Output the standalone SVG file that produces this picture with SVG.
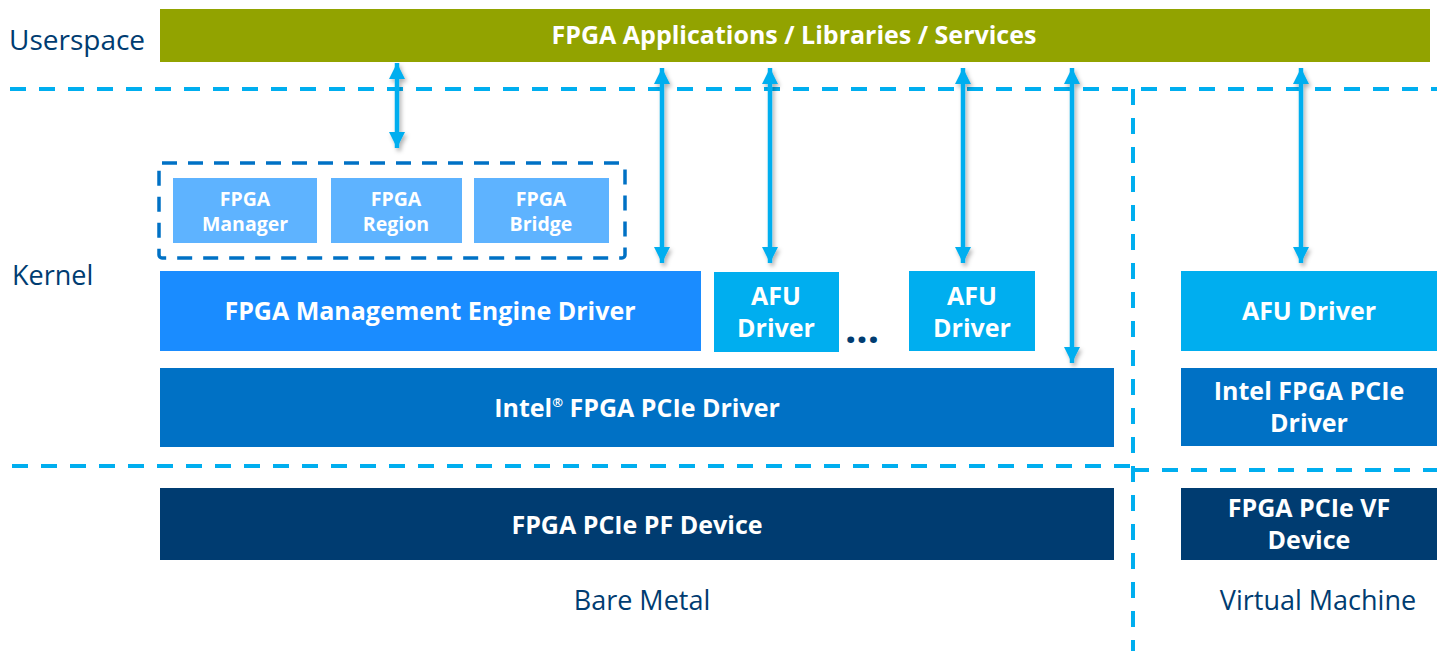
<svg xmlns="http://www.w3.org/2000/svg" width="1437" height="651" viewBox="0 0 1437 651">
<style>
.lbl{font-family:"Open Sans","Noto Sans","Liberation Sans",sans-serif;font-size:27px;fill:#003C71}
.t{font-family:"Open Sans","Noto Sans","Liberation Sans",sans-serif;font-weight:bold;fill:#fff;text-anchor:middle}
.t23{font-size:25px}
.t18{font-size:19.5px}
.dash{fill:none;stroke:#00AEEF;stroke-width:4;stroke-dasharray:16 13}
.arr{stroke:#00AEEF;stroke-width:4.5;fill:none;marker-start:url(#ah);marker-end:url(#ah);filter:url(#sh)}
</style>
<defs>
<marker id="ah" viewBox="0 0 10 10" refX="10" refY="5" markerWidth="3.6" markerHeight="3.6" orient="auto-start-reverse" markerUnits="strokeWidth">
<path d="M0,0 L10,5 L0,10 Z" fill="#00AEEF"/>
</marker>
<filter id="sh" filterUnits="userSpaceOnUse" x="0" y="0" width="1437" height="651">
<feDropShadow dx="2" dy="3" stdDeviation="2" flood-color="#000" flood-opacity="0.3"/>
</filter>
</defs>

<g id="separators">
<path class="dash" d="M10,89 H1437"/>
<path class="dash" d="M12,466 H1133"/>
<path class="dash" d="M1133,470 H1437"/>
<path class="dash" d="M1133,89 V651"/>
</g>

<g id="labels">
<text class="lbl" x="9" y="50" style="font-size:28px">Userspace</text>
<text class="lbl" x="12" y="285">Kernel</text>
<text class="lbl" x="642" y="610" text-anchor="middle">Bare Metal</text>
<text class="lbl" x="1318" y="610" text-anchor="middle">Virtual Machine</text>
</g>

<g id="apps">
<rect x="160" y="9" width="1270" height="53" fill="#92A300"/>
<text class="t t23" x="794" y="44">FPGA Applications / Libraries / Services</text>
</g>

<g id="fpga-framework">
<rect x="159" y="163" width="466" height="95" fill="none" stroke="#0071C5" stroke-width="3.5" stroke-dasharray="15 11" rx="3"/>
</g>
<g id="fpga-manager">
<rect x="173" y="178" width="144" height="65" fill="#5EB3FF"/>
<text class="t t18" x="245" y="206">FPGA</text>
<text class="t t18" x="245" y="231">Manager</text>
</g>
<g id="fpga-region">
<rect x="331" y="178" width="131" height="65" fill="#5EB3FF"/>
<text class="t t18" x="396" y="206">FPGA</text>
<text class="t t18" x="396" y="231">Region</text>
</g>
<g id="fpga-bridge">
<rect x="474" y="178" width="135" height="65" fill="#5EB3FF"/>
<text class="t t18" x="541" y="206">FPGA</text>
<text class="t t18" x="541" y="231">Bridge</text>
</g>

<g id="fme-driver">
<rect x="160" y="271" width="541" height="80" fill="#1A8CFF"/>
<text class="t t23" x="430" y="320">FPGA Management Engine Driver</text>
</g>
<g id="afu-driver-1">
<rect x="714" y="272" width="125" height="80" fill="#00AEEF"/>
<text class="t t23" x="776" y="305">AFU</text>
<text class="t t23" x="776" y="337">Driver</text>
</g>
<g id="ellipsis">
<text class="lbl" x="862" y="343" text-anchor="middle" style="font-size:40px;font-weight:bold">...</text>
</g>
<g id="afu-driver-2">
<rect x="909" y="271" width="126" height="80" fill="#00AEEF"/>
<text class="t t23" x="972" y="305">AFU</text>
<text class="t t23" x="972" y="337">Driver</text>
</g>
<g id="pcie-driver">
<rect x="160" y="368" width="954" height="79" fill="#0071C5"/>
<text class="t t23" x="637" y="417">Intel<tspan font-size="13" dy="-10">®</tspan><tspan dy="10"> FPGA PCIe Driver</tspan></text>
</g>
<g id="pf-device">
<rect x="160" y="488" width="954" height="72" fill="#003C71"/>
<text class="t t23" x="637" y="534">FPGA PCIe PF Device</text>
</g>

<g id="vm-afu-driver">
<rect x="1181" y="271" width="256" height="80" fill="#00AEEF"/>
<text class="t t23" x="1309" y="320">AFU Driver</text>
</g>
<g id="vm-pcie-driver">
<rect x="1181" y="368" width="256" height="78" fill="#0071C5"/>
<text class="t t23" x="1309" y="400">Intel FPGA PCIe</text>
<text class="t t23" x="1309" y="432">Driver</text>
</g>
<g id="vf-device">
<rect x="1181" y="488" width="256" height="72" fill="#003C71"/>
<text class="t t23" x="1309" y="517">FPGA PCIe VF</text>
<text class="t t23" x="1309" y="549">Device</text>
</g>

<g id="connectors">
<line class="arr" x1="397" y1="63" x2="397" y2="148"/>
<line class="arr" x1="662" y1="68" x2="662" y2="263"/>
<line class="arr" x1="770" y1="68" x2="770" y2="263"/>
<line class="arr" x1="963" y1="68" x2="963" y2="263"/>
<line class="arr" x1="1072" y1="68" x2="1072" y2="363"/>
<line class="arr" x1="1301" y1="68" x2="1301" y2="263"/>
</g>
</svg>
